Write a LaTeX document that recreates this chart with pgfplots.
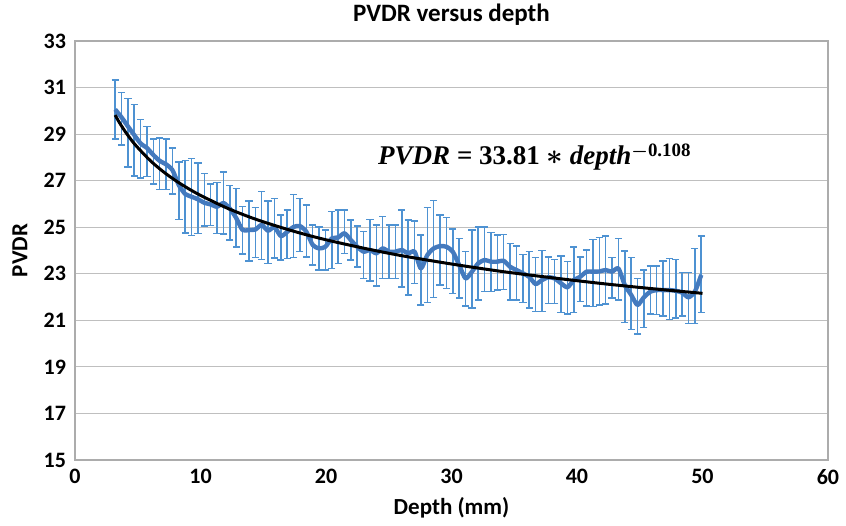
\documentclass[border=0pt]{standalone}
\usepackage{fontspec}
\setmainfont{Carlito}
\newfontfamily\eqfont{Liberation Serif}
\usepackage{pgfplots}
\pgfplotsset{compat=1.18}
\usepackage{pgfplotstable}
\definecolor{lineblue}{RGB}{68,122,190}
\definecolor{errblue}{RGB}{78,146,210}

\pgfplotstableread{
x y ep em
3.20 30.06 1.26 1.27
3.71 29.72 1.06 1.19
4.22 29.33 1.19 1.75
4.72 28.96 1.32 1.76
5.23 28.60 1.03 1.48
5.74 28.40 0.92 1.22
6.25 28.10 0.70 1.24
6.75 27.85 0.98 1.23
7.26 27.70 1.10 1.07
7.77 27.45 0.96 1.02
8.28 26.80 1.00 1.46
8.78 26.43 1.43 1.68
9.29 26.31 1.65 1.66
9.80 26.20 1.55 1.46
10.31 26.05 1.25 1.00
10.81 25.98 0.87 0.90
11.32 25.88 1.05 1.15
11.83 26.04 1.33 1.34
12.34 25.80 1.00 1.35
12.84 25.40 1.27 1.25
13.35 24.88 1.02 1.02
13.86 24.88 1.24 1.33
14.37 24.90 0.95 1.20
14.87 25.10 1.44 1.48
15.38 24.85 1.27 1.40
15.89 25.01 1.23 1.33
16.40 24.62 0.91 1.02
16.91 24.80 0.94 1.14
17.41 25.01 1.39 1.31
17.92 25.05 1.19 1.10
18.43 24.81 1.14 1.08
18.94 24.24 0.86 0.86
19.44 24.09 0.93 0.93
19.95 24.16 0.72 1.00
20.46 24.52 1.15 1.29
20.97 24.56 1.18 1.11
21.47 24.74 1.00 0.86
21.98 24.45 0.86 0.86
22.49 24.16 0.89 0.86
23.00 23.95 0.86 1.15
23.50 24.02 1.32 1.32
24.01 23.88 1.22 1.41
24.52 24.09 1.36 1.29
25.03 23.95 1.15 1.15
25.53 23.95 1.15 1.16
26.04 24.02 1.72 1.58
26.55 23.88 1.43 1.79
27.06 23.95 1.32 1.36
27.56 23.23 1.43 1.57
28.07 23.80 2.04 2.04
28.58 24.09 2.05 2.10
29.09 24.19 1.33 1.67
29.60 24.16 1.25 1.79
30.10 23.95 0.97 1.79
30.61 23.38 1.14 1.43
31.12 22.80 1.15 1.18
31.63 23.09 1.79 1.55
32.13 23.45 1.57 1.58
32.64 23.59 1.43 1.36
33.15 23.52 1.26 1.29
33.66 23.52 1.15 1.22
34.16 23.56 1.13 1.23
34.67 23.30 1.00 1.43
35.18 23.16 1.03 1.29
35.69 23.02 0.81 1.26
36.19 22.87 1.08 1.35
36.70 22.56 1.15 1.19
37.21 22.73 1.26 1.36
37.72 22.85 0.88 1.12
38.22 22.80 0.82 1.07
38.73 22.59 1.17 1.26
39.24 22.42 1.10 1.15
39.75 22.73 1.43 1.40
40.25 22.87 0.86 1.07
40.76 23.09 0.93 1.47
41.27 23.09 1.39 1.50
41.78 23.10 1.46 1.44
42.29 23.16 1.46 1.46
42.79 23.09 0.62 1.14
43.30 23.23 1.29 1.36
43.81 22.52 1.46 1.62
44.32 22.09 1.60 1.48
44.82 21.66 1.14 1.25
45.33 21.99 1.17 1.29
45.84 22.23 1.10 0.96
46.35 22.30 1.03 1.04
46.85 22.30 1.25 1.11
47.36 22.30 1.36 1.26
47.87 22.27 1.35 1.18
48.38 22.19 0.86 1.00
48.88 21.99 1.07 1.12
49.39 22.23 1.86 1.36
49.90 22.95 1.67 1.62
}\pvdr

\pgfplotstableread{
x y
3.2 29.82
3.5 29.53
4 29.11
4.5 28.74
5 28.42
6 27.86
7 27.40
8 27.01
9 26.67
10 26.37
12 25.85
14 25.42
16 25.06
18 24.74
20 24.46
23 24.10
26 23.78
30 23.42
34 23.10
38 22.83
42 22.58
46 22.36
50 22.16
}\fit

\begin{document}
\begin{tikzpicture}
\useasboundingbox (-37.5pt,-32.5pt) rectangle (385.5pt,230pt);
\begin{axis}[
  at={(0,0)}, anchor=south west,
  scale only axis, width=376.5pt, height=209.5pt,
  xmin=0, xmax=60, ymin=15, ymax=33,
  xtick={0,10,...,60}, ytick={15,17,...,33},
  ymajorgrids, grid style={gray!50, line width=0.6pt},
  axis line style={gray!65, line width=0.8pt},
  major tick length=0pt,
  tick label style={font=\fontsize{11}{13}\selectfont\bfseries},
  /pgf/number format/assume math mode=true,
  xticklabel style={yshift=-1pt},
  yticklabel style={xshift=-1pt},
  title={PVDR versus depth},
  title style={font=\fontsize{12.5}{14}\selectfont\bfseries, at={(axis description cs:0.5,1)}, anchor=center, yshift=7pt},
  xlabel={Depth (mm)}, ylabel={PVDR},
  label style={font=\fontsize{11.5}{13}\selectfont\bfseries},
  xlabel style={at={(axis description cs:0.5,0)}, anchor=center, yshift=-24pt},
  ylabel style={at={(axis description cs:-0.073,0.5)}, anchor=center},
  clip=false,
]
\addplot[draw=none, mark=none, forget plot,
  error bars/.cd, y dir=both, y explicit,
  error bar style={color=errblue, line width=0.75pt},
  error mark options={rotate=90, mark size=1.8pt, line width=0.75pt, color=errblue}]
  table[x=x, y=y, y error plus=ep, y error minus=em]{\pvdr};
\addplot[color=lineblue, line width=2.2pt, line join=round, mark=none, smooth, tension=0.4]
  table[x=x, y=y]{\pvdr};
\addplot[black, line width=1.5pt, mark=none, smooth] table[x=x, y=y]{\fit};
\node[anchor=west, font=\eqfont\fontsize{13.5}{15}\selectfont\bfseries] at (axis cs:23.6,28.0)
  {\textit{PVDR} = 33.81 {\boldmath$\ast$} \textit{depth}\textsuperscript{{\boldmath$-$}0.108}};
\end{axis}
\end{tikzpicture}
\end{document}
